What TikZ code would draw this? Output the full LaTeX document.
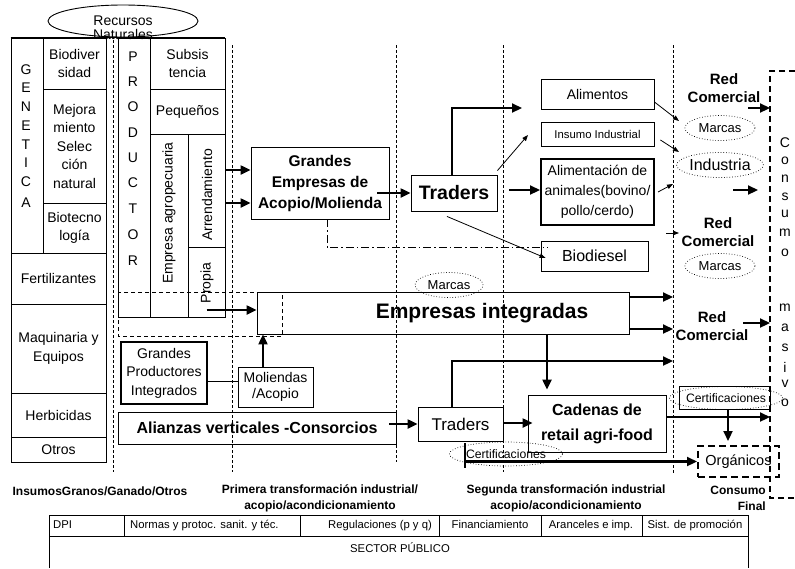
\documentclass[tikz,border=0pt]{standalone}
\usepackage{fontspec}
\setmainfont{Liberation Sans}
\usetikzlibrary{arrows.meta,shapes.geometric}

\begin{document}
\begin{tikzpicture}[x=1pt,y=-1pt]
  \tikzstyle{cell}=[draw,line width=0.9pt,inner sep=0pt,align=center,font=\fontsize{14}{18.5}\selectfont]
  \tikzstyle{heavy}=[cell,line width=2pt]
  \tikzstyle{txt}=[inner sep=0pt,align=center,font=\fontsize{14}{18.5}\selectfont]
  \tikzstyle{brand}=[ellipse,draw,dotted,line width=0.7pt,inner sep=0pt,minimum width=70,minimum height=25,font=\fontsize{13}{15}\selectfont]
  \tikzstyle{stage}=[line width=0.8pt,dash pattern=on 3pt off 2pt]
  \tikzstyle{bigarrow}=[line width=2.2pt,-{Triangle[length=10pt,width=9pt]}]
  \tikzstyle{thinarrow}=[line width=0.8pt,-{Triangle[length=6pt,width=4.5pt]}]
  \tikzstyle{redlabel}=[inner sep=0pt,align=center,font=\bfseries\fontsize{15}{18.5}\selectfont]
  \tikzstyle{phaselbl}=[inner sep=0pt,align=center,font=\bfseries\fontsize{12}{16}\selectfont]
  \tikzstyle{tcell}=[inner sep=0pt,text height=8.2pt,text depth=2.4pt,font=\fontsize{11.3}{13}\selectfont]

  \useasboundingbox (0,0) rectangle (795,568);

  % etapas
  \foreach \x/\ya/\yb in {113/40/472, 232/45/472, 396/45/462, 503/45/472, 673/45/473}
    \draw[stage] (\x,\ya) -- (\x,\yb);

  % insumos
  \node[cell,minimum width=32,minimum height=215] (gen) at (27,145.5) {};
  \foreach \ch/\y in {G/70,E/88,N/107,E/126,T/145,I/163,C/182,A/203}
    \node[txt] (gen-\y) at (26,\y) {\ch};
  \node[cell,minimum width=63,minimum height=51] (bio) at (74.5,63.5) {Biodiver\\sidad};
  \node[cell,minimum width=63,minimum height=114] (mej) at (74.5,146) {Mejora\\miento\\Selec\\ción\\natural};
  \node[cell,minimum width=63,minimum height=50] (biot) at (74.5,228) {Biotecno\\logía};
  \node[cell,minimum width=95,minimum height=51] (fert) at (58.5,278.5) {Fertilizantes};
  \node[cell,minimum width=95,minimum height=89] (maq) at (58.5,348.5) {Maquinaria y\\Equipos};
  \node[cell,minimum width=95,minimum height=44] (herb) at (58.5,415) {Herbicidas};
  \node[cell,minimum width=95,minimum height=25] (otros) at (58.5,449.5) {Otros};

  % productor
  \node[cell,minimum width=32,minimum height=279] (prod) at (134,177.5) {};
  \foreach \ch/\y in {P/57,R/82,O/107,D/133,U/158,C/183,T/209,O/235,R/261}
    \node[txt] (prod-\y) at (133,\y) {\ch};
  \node[cell,minimum width=75,minimum height=51] (subs) at (187.5,63.5) {Subsis\\tencia};
  \node[cell,minimum width=75,minimum height=45] (peq) at (187.5,111.5) {Pequeños};
  \node[cell,minimum width=38,minimum height=183] (emp) at (169,225.5) {};
  \node[txt,rotate=90] (emptxt) at (169,213) {Empresa agropecuaria};
  \node[cell,minimum width=37,minimum height=113] (arr) at (206.5,190.5) {};
  \node[txt,rotate=90] (arrtxt) at (207,195) {Arrendamiento};
  \node[cell,minimum width=37,minimum height=70] (prop) at (206.5,282) {};
  \node[txt,rotate=90] (proptxt) at (207,283) {Propia};
  \draw[line width=0.9pt] (gen.north west) -- (subs.north east);
  \draw[line width=0.8pt,dash pattern=on 4pt off 3pt] (118,292) rectangle (282,336);

  \node[ellipse,draw,line width=0.9pt,fill=white,minimum width=150,minimum height=32,inner sep=0pt] (rec) at (123,21) {};
  \node[txt,font=\fontsize{14}{14}\selectfont] (rectxt) at (123,28) {Recursos\\Naturales};

  % primera transformacion
  \node[cell,font=\bfseries\fontsize{15.5}{21}\selectfont,minimum width=138,minimum height=72] (grandes) at (320,183) {Grandes\\Empresas de\\Acopio/Molienda};
  \node[cell,font=\bfseries\fontsize{19.5}{22}\selectfont,minimum width=86,minimum height=36] (tradA) at (454,193) {Traders};
  \node[cell,minimum width=372,minimum height=42] (empr) at (443,313) {};
  \node[txt,font=\bfseries\fontsize{21}{24}\selectfont] (emprtxt) at (482,313) {Empresas integradas};
  \node[brand,minimum width=68] (marC) at (449,285) {Marcas};
  \node[heavy,minimum width=86,minimum height=62] (gp) at (164,373) {Grandes\\Productores\\Integrados};
  \node[cell,font=\fontsize{14}{15.5}\selectfont,minimum width=75,minimum height=40] (mol) at (275.5,387) {Moliendas\\/Acopio};
  \node[cell,font=\bfseries\fontsize{16}{18}\selectfont,minimum width=278,minimum height=32] (alz) at (257,428) {Alianzas verticales -Consorcios};
  \node[cell,font=\fontsize{17}{19}\selectfont,minimum width=85,minimum height=34] (tradB) at (460.5,424) {Traders};

  % segunda transformacion
  \node[cell,minimum width=113,minimum height=30] (alim) at (597.5,94) {Alimentos};
  \node[cell,font=\fontsize{11.3}{13}\selectfont,minimum width=113,minimum height=24] (insumo) at (597.5,134) {Insumo Industrial};
  \node[heavy,font=\fontsize{14}{20}\selectfont,minimum width=113,minimum height=66] (alimAn) at (597.5,192) {Alimentación de\\animales(bovino/\\pollo/cerdo)};
  \node[cell,font=\fontsize{16}{18}\selectfont,minimum width=107,minimum height=30] (biod) at (594.5,256) {Biodiesel};
  \node[cell,font=\bfseries\fontsize{16}{25}\selectfont,minimum width=138,minimum height=57] (cad) at (597,423.5) {Cadenas de\\retail agri-food};
  \node[brand,font=\fontsize{12.2}{14}\selectfont,minimum width=96,minimum height=24] (certB) at (506,454) {Certificaciones};

  % red comercial y consumo
  \node[redlabel] (redA) at (724,88) {Red\\Comercial};
  \node[brand] (marA) at (720,128) {Marcas};
  \node[brand,font=\fontsize{16}{18}\selectfont] (ind) at (720,165) {Industria};
  \node[redlabel] (redB) at (718,232) {Red\\Comercial};
  \node[brand] (marB) at (720,266) {Marcas};
  \node[redlabel] (redC) at (712,326) {Red\\Comercial};
  \node[cell,minimum width=91,minimum height=23] (cert) at (724.5,397.5) {};
  \node[brand,font=\fontsize{12.2}{14}\selectfont,minimum width=96,minimum height=23] (certA) at (726,398) {Certificaciones};
  \node[cell,line width=2pt,dash pattern=on 7pt off 4pt,font=\fontsize{14.5}{16}\selectfont,minimum width=81,minimum height=31] (org) at (738.5,461.5) {Orgánicos};
  \draw[line width=1.4pt,dash pattern=on 6pt off 4pt] (795,71) -- (770,71) -- (770,498) -- (795,498);
  \foreach \ch/\y in {C/143,o/161,n/179,s/197,u/214,m/233,o/253,m/308,a/328,s/348,i/367,v/384,o/403}
    \node[txt] (cons-\y) at (785,\y) {\ch};

  % flujos
  \draw[bigarrow] (arr.east |- 0,170) -- (grandes.west |- 0,170);
  \draw[bigarrow] (arr.east |- 0,203) -- (grandes.west |- 0,203);
  \draw[bigarrow] (prop.center |- 0,310) -- (empr.west |- 0,310);
  \draw[bigarrow] ([xshift=-12pt]grandes.east |- tradA.west) -- (tradA.west);
  \coordinate (toAlim) at (522,108);
  \draw[bigarrow] ([xshift=-2pt]tradA.north) |- (toAlim);
  \coordinate (toIns) at (528,135);
  \draw[thinarrow] ([yshift=4pt]tradA.north east) -- (toIns);
  \draw[bigarrow] ([xshift=12pt]tradA.east |- 0,190) -- (alimAn.west |- 0,190);
  \draw[thinarrow] ([xshift=-7pt,yshift=-5pt]tradA.south) -- ([xshift=5pt,yshift=-2pt]biod.west);
  \coordinate (ddEnd) at (548,247);
  \draw[line width=0.9pt,dash pattern=on 8pt off 3pt on 1.5pt off 3pt] ([xshift=7pt]grandes.south) |- (ddEnd);

  \coordinate (mkA) at (679,121);
  \coordinate (mkB) at (679,152);
  \coordinate (mkC) at (673,184);
  \draw[thinarrow] ([yshift=-8pt]alim.east) -- (mkA);
  \draw[thinarrow] ([xshift=6pt,yshift=-6pt]insumo.east) -- (mkB);
  \draw[thinarrow] ([xshift=3pt]alimAn.east) -- (mkC);

  \coordinate (cA0) at (748,108);
  \coordinate (cA1) at (770,108);
  \coordinate (cB0) at (733,190);
  \coordinate (cB1) at (758,190);
  \coordinate (cC0) at (666,233);
  \coordinate (cC1) at (679,233);
  \coordinate (cD0) at (743,323);
  \coordinate (cD1) at (770,323);
  \coordinate (cE) at (770,417);
  \draw[bigarrow] (cA0) -- (cA1);
  \draw[bigarrow] (cB0) -- (cB1);
  \draw[thinarrow] (cC0) -- (cC1);
  \draw[bigarrow] (cD0) -- (cD1);

  \coordinate (r1) at (673,297);
  \coordinate (r2) at (673,329);
  \coordinate (r3) at (673,361);
  \draw[bigarrow] (empr.east |- r1) -- (r1);
  \draw[bigarrow] (empr.east |- r2) -- (r2);
  \draw[bigarrow] ([xshift=-8.5pt]tradB.north) |- (r3);
  \draw[bigarrow] (empr.south -| 547,0) -- ([yshift=5pt]cad.north -| 547,0);

  \draw[line width=0.9pt] (gp.east |- 0,381) -- (mol.west |- 0,381);
  \draw[bigarrow] (mol.north -| 263,0) -- (empr.south -| 263,0);
  \draw[bigarrow] ([xshift=-7pt]alz.east |- tradB.west) -- (tradB.west);
  \draw[bigarrow] (tradB.east |- 0,423) -- ([xshift=5pt]cad.west |- 0,423);
  \draw[bigarrow] (cad.east |- cE) -- (cE);
  \draw[bigarrow] (cert.south -| 728,0) -- ([yshift=4pt]org.north -| 728,0);
  \coordinate (tickA) at (465,443);
  \coordinate (tickB) at (465,468);
  \draw[line width=2.2pt] (tickA) -- (tickB);
  \draw[bigarrow] (tickA |- org.west) -- (org.west);

  % etapas (rotulos)
  \node[phaselbl] (phIns) at (100,491) {InsumosGranos/Ganado/Otros};
  \node[phaselbl] (phPri) at (320,498) {Primera transformación industrial/\\acopio/acondicionamiento};
  \node[phaselbl] (phSeg) at (566,498) {Segunda transformación industrial\\acopio/acondicionamiento};
  \node[phaselbl,align=right,anchor=east] (phCon) at (766,498) {Consumo\\Final};

  % sector publico
  \draw[line width=0.9pt] (49,568) -- (49,515) -- (748,515) -- (748,568);
  \draw[line width=0.9pt] (49,536) -- (748,536);
  \foreach \x in {124,300,439,541,642}
    \draw[line width=0.9pt] (\x,515) -- (\x,536);
  \node[tcell,anchor=west] (dpi) at (53,525.5) {DPI};
  \node[tcell,anchor=west] (norm) at (130,525.5) {Normas y protoc. sanit. y téc.};
  \node[tcell] (reg) at (380,525.5) {Regulaciones (p y q)};
  \node[tcell] (fin) at (490,525.5) {Financiamiento};
  \node[tcell] (aran) at (591,525.5) {Aranceles e imp.};
  \node[tcell] (sist) at (695,525.5) {Sist. de promoción};
  \node[tcell] (sector) at (400,550) {SECTOR PÚBLICO};
\end{tikzpicture}
\end{document}
